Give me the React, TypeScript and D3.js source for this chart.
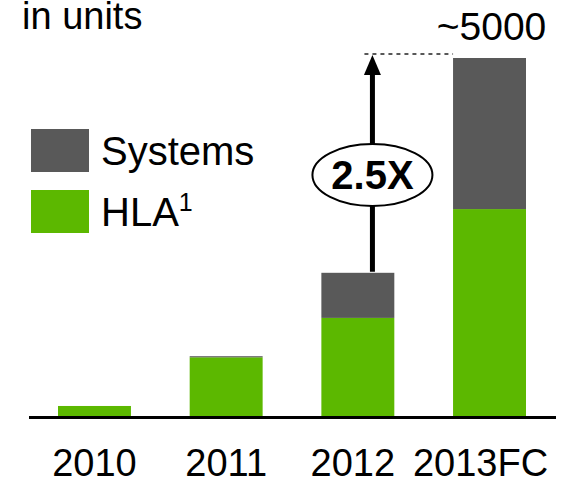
import React from 'react';
import * as d3 from 'd3';

// chart data (units)
const years = ['2010', '2011', '2012', '2013FC'];
const hla = [140, 820, 1370, 2890];
const systems = [0, 15, 630, 2110];
const seriesNames = ['Systems', 'HLA'];
const colors = ['#595959', '#5cb800'];
const topLabel = '~5000';
const multiple = '2.5X';

const width = 577;
const height = 480;
const FONT = '"Liberation Sans", Arial, Helvetica, sans-serif';

export default function App() {
  const x = d3
    .scaleBand<string>()
    .domain(years)
    .range([26, 558])
    .paddingInner(0.446)
    .paddingOuter(0.243);

  const y = d3.scaleLinear().domain([0, 5000]).range([416, 58]);

  const rows = years.map((yr, i) => ({ year: yr, HLA: hla[i], Systems: systems[i] }));
  const stacked = d3.stack<any>().keys(['HLA', 'Systems'])(rows);

  const bw = x.bandwidth();
  const i12 = years.indexOf('2012');
  const i13 = years.indexOf('2013FC');
  const total12 = hla[i12] + systems[i12];
  const total13 = hla[i13] + systems[i13];
  const arrowX = x('2012')! + bw * 0.7;
  const arrowTop = y(total13) - 1;
  const arrowBottom = y(total12) - 1;
  const ellipseY = 175;

  return (
    <svg width={width} height={height} style={{ position: 'absolute', left: 0, top: 0 }} fontFamily={FONT}>
      <rect width={width} height={height} fill="#fff" />

      {/* title */}
      <text x={22} y={29} fontSize={38} fill="#000">in units</text>

      {/* bars */}
      {stacked.map((layer) => (
        <g key={layer.key} fill={layer.key === 'HLA' ? colors[1] : colors[0]}>
          {layer.map((d, i) => {
            const h = y(d[0]) - y(d[1]);
            if (h <= 0) return null;
            return (
              <rect key={years[i]} x={x(years[i])} y={y(d[1])} width={bw} height={h} />
            );
          })}
        </g>
      ))}

      {/* baseline */}
      <line x1={29} x2={556} y1={417.5} y2={417.5} stroke="#000" strokeWidth={3} />

      {/* category labels */}
      {years.map((yr) => (
        <text
          key={yr}
          x={x(yr)! + bw / 2 - (yr === '2013FC' ? 9 : yr === '2012' ? 5 : 0)}
          y={476}
          textAnchor="middle"
          fontSize={38}
          fill="#000"
        >
          {yr}
        </text>
      ))}

      {/* total label */}
      <text x={x('2013FC')! + bw / 2 + 2} y={40} textAnchor="middle" fontSize={39} fill="#000">
        {topLabel}
      </text>

      {/* dashed guide */}
      <line
        x1={arrowX - 8}
        x2={x('2013FC')!}
        y1={arrowTop - 3}
        y2={arrowTop - 3}
        stroke="#222"
        strokeWidth={1.3}
        strokeDasharray="4,4"
      />

      {/* growth arrow */}
      <line x1={arrowX} x2={arrowX} y1={arrowBottom} y2={arrowTop + 17} stroke="#000" strokeWidth={5} />
      <path
        d={`M${arrowX},${arrowTop - 2} L${arrowX + 8.5},${arrowTop + 18} L${arrowX - 8.5},${arrowTop + 18} Z`}
        fill="#000"
      />
      <ellipse cx={arrowX} cy={ellipseY} rx={60} ry={31} fill="#fff" stroke="#000" strokeWidth={2} />
      <text x={arrowX} y={ellipseY + 14} textAnchor="middle" fontSize={40} fontWeight="bold" fill="#000">
        {multiple}
      </text>

      {/* legend */}
      {seriesNames.map((name, i) => (
        <g key={name} transform={`translate(31,${129 + i * 61})`}>
          <rect width={58} height={43} fill={colors[i]} />
          <text x={70} y={36} fontSize={40} fill="#000">
            {name}
            {name === 'HLA' && (
              <tspan fontSize={25} dy={-15}>1</tspan>
            )}
          </text>
        </g>
      ))}
    </svg>
  );
}
